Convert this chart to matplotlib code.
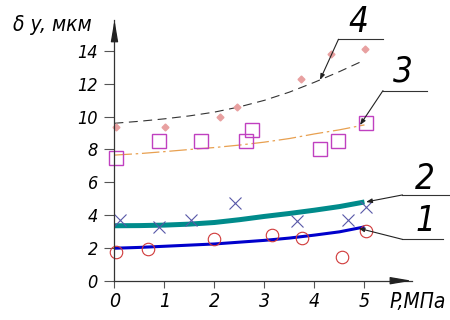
import matplotlib
matplotlib.use('Agg')
import matplotlib.pyplot as plt

plt.rcParams['font.family'] = ['DejaVu Sans']
plt.rcParams['font.stretch'] = 'condensed'
plt.rcParams['font.style'] = 'oblique'

# measured points
p1 = [0.03, 0.67, 2.0, 3.16, 3.76, 4.55, 5.04]
d1 = [1.75, 1.95, 2.54, 2.78, 2.62, 1.44, 3.03]

p2 = [0.12, 0.9, 1.53, 2.41, 3.66, 4.68, 5.04]
d2 = [3.68, 3.27, 3.72, 4.76, 3.66, 3.68, 4.49]

p3 = [0.04, 0.89, 1.74, 2.63, 2.75, 4.11, 4.48, 5.04]
d3 = [7.5, 8.54, 8.54, 8.54, 9.19, 8.0, 8.54, 9.6]

p4 = [0.04, 1.02, 2.12, 2.46, 3.73, 4.33, 5.01]
d4 = [9.35, 9.37, 9.96, 10.6, 12.28, 13.8, 14.15]

# fitted curves
xc = [0, 0.5, 1, 1.5, 2, 2.5, 3, 3.5, 4, 4.5, 5]
c1 = [1.98, 2.03, 2.1, 2.17, 2.24, 2.35, 2.46, 2.6, 2.78, 2.98, 3.28]
c2 = [3.35, 3.36, 3.39, 3.45, 3.55, 3.72, 3.92, 4.1, 4.3, 4.52, 4.8]
c3 = [7.66, 7.75, 7.87, 8.0, 8.12, 8.27, 8.45, 8.67, 8.95, 9.2, 9.5]
c4 = [9.6, 9.72, 9.87, 10.05, 10.28, 10.6, 11.0, 11.5, 12.1, 12.75, 13.45]

xticks = [0, 1, 2, 3, 4, 5]
yticks = [0, 2, 4, 6, 8, 10, 12, 14]

# curve labels: text pos, leader knee, leader end, point on curve
labels = ['1', '2', '3', '4']
lab_pos = [(6.22, 3.61), (6.21, 6.23), (5.77, 12.73), (4.87, 15.77)]
knee = [(5.76, 2.52), (5.76, 5.23), (5.37, 11.59), (4.48, 14.72)]
knee_end = [(6.57, 2.52), (6.71, 5.23), (6.25, 11.59), (5.38, 14.72)]
pt = [(4.88, 3.2), (5.03, 4.8), (4.91, 9.49), (4.11, 12.24)]

fig = plt.figure(figsize=(4.5, 3.2), dpi=100)
ax = fig.add_axes([0.2544, 0.1228, 0.6611, 0.8149])
ax.set_xlim(0, 5.95)
ax.set_ylim(0, 15.9)

ax.plot(xc, c4, color='#333333', lw=0.8, dashes=(8, 5))
ax.plot(xc, c3, color='#e8a050', lw=0.9, dashes=(14, 3, 2, 3))
ax.plot(xc, c2, color='#008b8b', lw=3.6, solid_capstyle='butt')
ax.plot(xc, c1, color='#0000cc', lw=2.2, solid_capstyle='butt')

ax.plot(p1, d1, 'o', ms=9, mfc='none', mec='#d03838', mew=0.8, clip_on=False)
ax.plot(p2, d2, 'x', ms=9, color='#5858a8', mew=0.8, clip_on=False)
ax.plot(p3, d3, 's', ms=10, mfc='none', mec='#c040c0', mew=1.0, clip_on=False)
ax.plot(p4, d4, 'D', ms=3.5, color='#e8a0a0', clip_on=False)

for lab, tp, k, ke, p in zip(labels, lab_pos, knee, knee_end, pt):
    ax.plot([k[0], ke[0]], [k[1], ke[1]], color='#333333', lw=0.8, clip_on=False)
    ax.annotate('', xy=p, xytext=k, annotation_clip=False,
                arrowprops=dict(arrowstyle='-|>,head_length=0.35,head_width=0.13',
                                color='#222222', lw=0.8, shrinkA=0, shrinkB=0))
    ax.text(tp[0], tp[1], lab, fontsize=25, ha='center', va='center', clip_on=False)

for s in ['top', 'right']:
    ax.spines[s].set_visible(False)
for s in ['left', 'bottom']:
    ax.spines[s].set_color('#333333')
    ax.spines[s].set_linewidth(0.9)

ax.annotate('', xy=(5.95, 0), xytext=(5.55, 0), annotation_clip=False,
            arrowprops=dict(arrowstyle='-|>,head_length=1.3,head_width=0.22',
                            color='#222222', lw=0.9, shrinkA=0, shrinkB=0))
ax.annotate('', xy=(0, 15.9), xytext=(0, 14.9), annotation_clip=False,
            arrowprops=dict(arrowstyle='-|>,head_length=1.3,head_width=0.22',
                            color='#222222', lw=0.9, shrinkA=0, shrinkB=0))

ax.set_xticks(xticks)
ax.set_yticks(yticks)
ax.tick_params(axis='x', direction='out', length=5, width=0.8, color='#555555',
               labelsize=14, pad=3)
ax.tick_params(axis='y', direction='out', length=7, width=0.8, color='#555555',
               labelsize=13, pad=5)

fig.text(13 / 450, 1 - 25 / 320, 'δ y, мкм', fontsize=15, ha='left', va='center')
fig.text(389 / 450, 1 - 302 / 320, 'P,МПа', fontsize=15, ha='left', va='center')

fig.savefig('out.png', dpi=100)
